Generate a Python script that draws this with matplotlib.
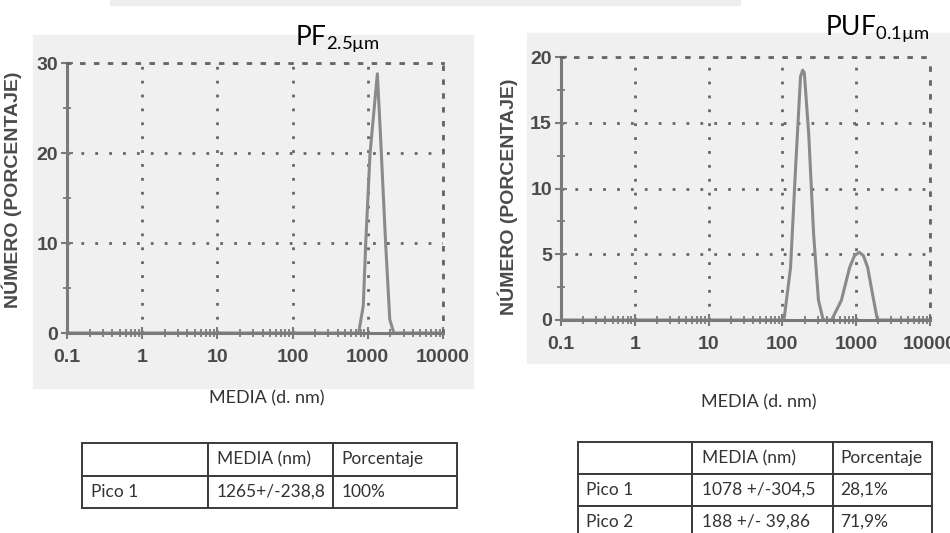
import matplotlib
matplotlib.use('Agg')
import matplotlib.pyplot as plt
from matplotlib.patches import Rectangle
from matplotlib.ticker import FixedLocator, NullFormatter

# Distribucion de tamaño PF 2.5 um
pf_x = [0.1, 755, 870, 940, 1070, 1340, 1480, 1725, 1960, 2220, 10000]
pf_y = [0, 0, 3.0, 10.1, 19.9, 28.8, 21.7, 10.0, 1.5, 0, 0]

# Distribucion de tamaño PUF 0.1 um
puf_x = [0.1, 105, 129, 151, 176, 188, 198, 227, 265, 308, 357,
         464, 630, 815, 950, 1100, 1250, 1430, 1660, 1940, 10000]
puf_y = [0, 0, 4.0, 11.6, 18.5, 19.0, 18.8, 14.2, 6.5, 1.5, 0,
         0, 1.5, 4.0, 4.9, 5.15, 4.9, 4.0, 2.0, 0, 0]

x_ticks = [0.1, 1, 10, 100, 1000, 10000]
x_labels = ['0.1', '1', '10', '100', '1000', '10000']

tabla_cols = ['', 'MEDIA (nm)', 'Porcentaje']
tabla_pf = [['Pico 1', '1265+/-238,8', '100%']]
tabla_puf = [['Pico 1', '1078 +/-304,5', '28,1%'],
             ['Pico 2', '188 +/- 39,86', '71,9%']]

W, H = 950, 533
GRIS = '#7a7a7a'
TXT = '#4a4a4a'
SANS = 'Liberation Sans'


def px(x0, y0, x1, y1):
    # caja en pixeles -> fracciones de figura
    return [x0 / W, 1 - y1 / H, (x1 - x0) / W, (y1 - y0) / H]


def grafico(ax, x, y, ymax, yticks, yminor, lab_xy):
    ax.set_facecolor('none')
    ax.plot(x, y, color='#8a8a8a', lw=2.2, solid_joinstyle='round')
    ax.set_xscale('log')
    ax.set_xlim(0.1, 10000)
    ax.set_ylim(0, ymax)
    ax.set_xticks(x_ticks, x_labels)
    ax.xaxis.set_minor_locator(FixedLocator(
        [m * 10.0 ** e for e in range(-1, 4) for m in range(2, 10)]))
    ax.xaxis.set_minor_formatter(NullFormatter())
    ax.set_yticks(yticks)
    ax.yaxis.set_minor_locator(FixedLocator(yminor))
    ax.grid(True, which='major', color='#666666', lw=2.0,
            linestyle=(0, (1, 4)))
    for s in ['left', 'bottom']:
        ax.spines[s].set_color(GRIS)
        ax.spines[s].set_linewidth(2.2)
    for s in ['top', 'right']:
        ax.spines[s].set_color('#666666')
        ax.spines[s].set_linewidth(2.0)
        ax.spines[s].set_linestyle((0, (1, 4)))
    ax.tick_params(which='major', direction='inout', length=9, width=1.5,
                   color=GRIS, labelcolor=TXT, labelsize=14)
    ax.tick_params(which='minor', direction='inout', length=6, width=1.3,
                   color=GRIS)
    ax.tick_params(axis='x', which='major', pad=7)
    ax.tick_params(axis='y', which='major', pad=2)
    ax.tick_params(top=False, right=False, which='both')
    for t in ax.get_xticklabels() + ax.get_yticklabels():
        t.set_family(SANS)
        t.set_fontweight('bold')
    ax.set_ylabel('NÚMERO (PORCENTAJE)', family=SANS, fontweight='bold',
                  fontsize=14, color=TXT)
    ax.yaxis.set_label_coords(*lab_xy)


def tabla(box, filas, widths):
    tax = fig.add_axes(px(*box))
    tax.axis('off')
    tb = tax.table(cellText=filas, colLabels=tabla_cols, colWidths=widths,
                   cellLoc='left', colLoc='left', bbox=[0, 0, 1, 1])
    tb.auto_set_font_size(False)
    for (r, c), cell in tb.get_celld().items():
        cell.set_edgecolor('#3a3a3a')
        cell.set_linewidth(1.4)
        cell.set_facecolor('white')
        cell.PAD = 0.07
        cell.get_text().set_fontsize(12.5)
        cell.get_text().set_family('Lato')
        cell.get_text().set_color('#333333')


fig = plt.figure(figsize=(9.5, 5.33), dpi=100)

# marca de agua superior (tenue)
fig.patches.append(Rectangle((110 / W, 1 - 5 / H), 630 / W, 5 / H,
                             transform=fig.transFigure, color='#eceee9',
                             zorder=-5))
# fondo gris de las imagenes
fig.patches.append(Rectangle((33 / W, 1 - 388 / H), 440 / W, 353 / H,
                             transform=fig.transFigure, color='#f0f0f0',
                             zorder=-5))
fig.patches.append(Rectangle((527 / W, 1 - 363 / H), 423 / W, 330 / H,
                             transform=fig.transFigure, color='#f0f0f0',
                             zorder=-5))

ax1 = fig.add_axes(px(67, 63, 443, 333))
grafico(ax1, pf_x, pf_y, 30, [0, 10, 20, 30], [5, 15, 25], (-0.12, 0.53))

ax2 = fig.add_axes(px(561, 57, 930, 320))
grafico(ax2, puf_x, puf_y, 20, [0, 5, 10, 15, 20], [2.5, 7.5, 12.5, 17.5],
        (-0.117, 0.468))

fig.text(267 / W, 1 - 398 / H, 'MEDIA (d. nm)', ha='center', va='center',
         family='Lato', fontsize=13, color='#333333')
fig.text(759 / W, 1 - 402 / H, 'MEDIA (d. nm)', ha='center', va='center',
         family='Lato', fontsize=13, color='#333333')

fig.text(295 / W, 1 - 45 / H, r'PF$_{\mathregular{2.5µm}}$', ha='left',
         va='baseline', family='Lato', fontsize=19, color='black')
fig.text(825 / W, 1 - 35 / H, r'PUF$_{\mathregular{0.1µm}}$', ha='left',
         va='baseline', family='Lato', fontsize=19, color='black')

tabla((82, 443, 457, 508), tabla_pf, [126, 125, 124])
tabla((578, 442, 932, 538), tabla_puf, [114, 141, 99])

fig.savefig('out.png', dpi=100)
